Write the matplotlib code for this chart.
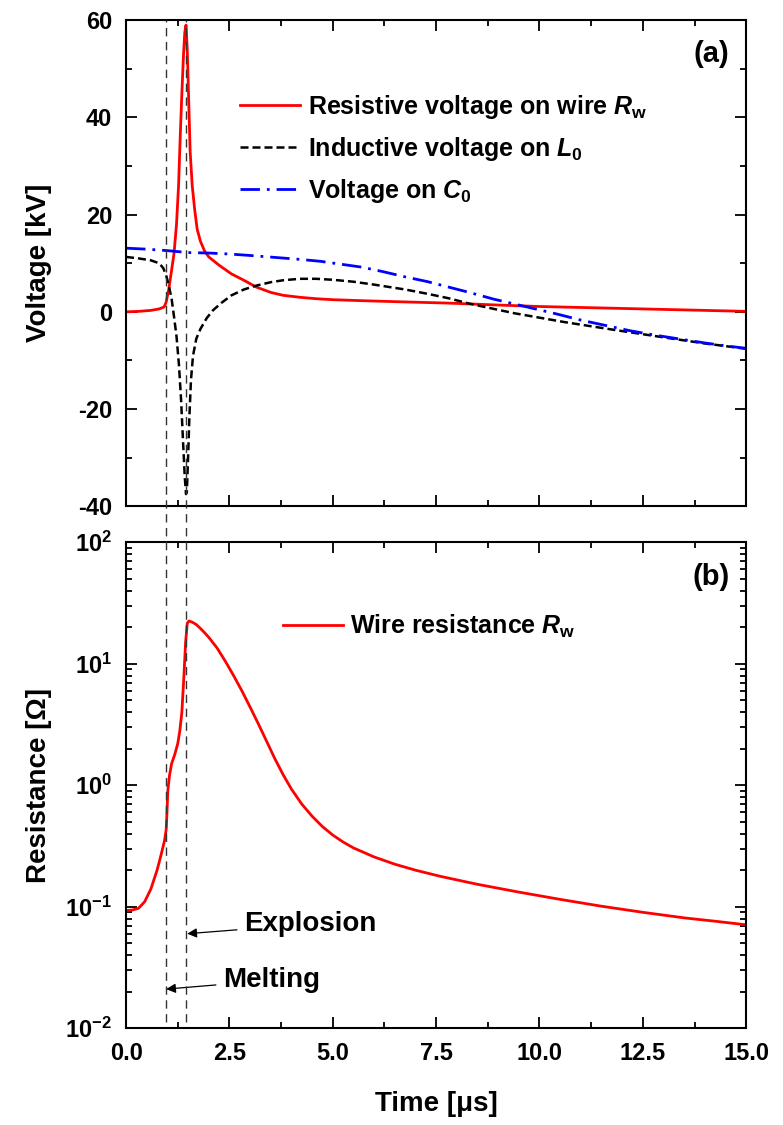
import matplotlib
matplotlib.use('Agg')
import matplotlib.pyplot as plt
import matplotlib.ticker as ticker
import matplotlib.transforms as mtransforms
from matplotlib.lines import Line2D
import numpy as np

plt.rcParams['font.family'] = 'Liberation Sans'
plt.rcParams['font.weight'] = 'bold'
plt.rcParams['axes.labelweight'] = 'bold'
plt.rcParams['axes.unicode_minus'] = False
plt.rcParams['mathtext.fontset'] = 'custom'
plt.rcParams['mathtext.rm'] = 'Liberation Sans:bold'
plt.rcParams['mathtext.it'] = 'Liberation Sans:italic:bold'
plt.rcParams['mathtext.bf'] = 'Liberation Sans:bold'

# ---- data ----
# (a) resistive voltage on the wire [kV]
t_res = [0, 0.3, 0.6, 0.8, 0.92, 0.97, 1.03, 1.1, 1.16, 1.22, 1.27, 1.31, 1.35,
         1.39, 1.42, 1.45, 1.48, 1.51, 1.55, 1.6, 1.66, 1.72, 1.8, 1.9, 2.0,
         2.25, 2.55, 2.85, 3.15, 3.5, 3.8, 4.2, 4.6, 5.0, 5.7, 6.5, 7.8, 9.0,
         10.0, 11.0, 12.0, 13.5, 15.0]
v_res = [0, 0.1, 0.3, 0.6, 1.0, 2.0, 4.5, 8.5, 12, 18, 26, 36, 45,
         53, 57.5, 59, 54, 45, 33, 26, 21, 17, 14.5, 12.5, 11.3,
         9.6, 7.8, 6.5, 5.1, 4.0, 3.4, 3.0, 2.7, 2.5, 2.3, 2.1, 1.8, 1.4,
         1.1, 0.9, 0.7, 0.4, 0.1]

# (a) inductive voltage on L0 [kV]
t_ind = [0, 0.3, 0.6, 0.8, 0.9, 0.97, 1.03, 1.1, 1.16, 1.22, 1.28, 1.33, 1.38,
         1.42, 1.45, 1.47, 1.5, 1.53, 1.57, 1.62, 1.7, 1.8, 1.95, 2.1, 2.3,
         2.55, 2.85, 3.15, 3.5, 3.8, 4.2, 4.6, 5.0, 5.5, 6.0, 6.75, 7.3, 7.8,
         8.3, 8.9, 9.4, 10.0, 10.6, 11.2, 11.8, 12.5, 13.2, 14.0, 15.0]
v_ind = [11.3, 11.0, 10.6, 10.0, 9.0, 7.5, 5.5, 2.8, -1, -5, -11, -18, -27,
         -34, -37.5, -37, -30, -22, -14, -9, -5.5, -3.5, -1.3, 0.3, 1.8,
         3.4, 4.6, 5.4, 6.1, 6.5, 6.8, 6.8, 6.6, 6.2, 5.6, 4.6, 3.7, 2.8,
         1.7, 0.6, -0.3, -1.2, -2.1, -2.9, -3.7, -4.6, -5.5, -6.5, -7.6]

# (a) voltage on C0 [kV]
t_cap = [0, 0.5, 1.0, 1.5, 2.0, 2.5, 3.0, 3.6, 4.2, 4.7, 5.2, 5.7, 6.2, 6.75,
         7.3, 7.8, 8.3, 8.9, 9.4, 9.8, 10.4, 11.0, 11.6, 12.2, 12.8, 13.4,
         14.0, 14.5, 15.0]
v_cap = [13.1, 12.9, 12.6, 12.2, 12.1, 11.9, 11.6, 11.2, 10.8, 10.4, 9.8, 9.2,
         8.3, 7.2, 6.2, 5.1, 4.0, 2.6, 1.6, 0.8, -0.4, -1.7, -2.8, -3.9, -4.8,
         -5.6, -6.4, -7.0, -7.5]

# (b) wire resistance [Ohm]
t_rw = [0, 0.15, 0.3, 0.45, 0.6, 0.75, 0.85, 0.93, 0.97, 0.99, 1.01, 1.05, 1.1,
        1.18, 1.25, 1.3, 1.35, 1.4, 1.44, 1.48, 1.52, 1.6, 1.7, 1.8, 1.9, 2.0,
        2.2, 2.4, 2.6, 2.8, 3.0, 3.2, 3.4, 3.6, 3.8, 4.0, 4.25, 4.5, 4.75, 5.0,
        5.25, 5.5, 6.0, 6.5, 7.0, 7.6, 8.5, 9.5, 10.5, 11.5, 12.5, 13.5,
        14.25, 15.0]
r_w = [0.093, 0.094, 0.097, 0.11, 0.14, 0.2, 0.27, 0.35, 0.43, 0.6, 0.9, 1.2,
       1.5, 1.8, 2.2, 2.8, 4.0, 8.0, 15, 21.5, 22.5, 22, 21, 19.5, 18, 16.5,
       13.5, 10.5, 8.0, 6.0, 4.4, 3.2, 2.3, 1.65, 1.22, 0.93, 0.70, 0.556,
       0.457, 0.389, 0.341, 0.305, 0.257, 0.224, 0.2, 0.178, 0.153, 0.132,
       0.115, 0.101, 0.09, 0.081, 0.076, 0.071]

t_melt = 0.96
t_expl = 1.45

xticks = [0, 2.5, 5.0, 7.5, 10.0, 12.5, 15.0]

fig = plt.figure(figsize=(7.83, 11.25), dpi=100)
ax1 = fig.add_axes([0.161, 0.550, 0.792, 0.432])
ax2 = fig.add_axes([0.161, 0.086, 0.792, 0.432])

ax1.plot(t_res, v_res, color='#ff0000', lw=2.0,
         label=r'Resistive voltage on wire $R_\mathrm{w}$')
ax1.plot(t_ind, v_ind, color='black', lw=1.8, dashes=(3.2, 1.6),
         label=r'Inductive voltage on $L_\mathrm{0}$')
ax1.plot(t_cap, v_cap, color='#0000ff', lw=2.0, dashes=(7, 2.5, 1, 2.5),
         label=r'Voltage on $C_\mathrm{0}$')

ax2.semilogy(t_rw, r_w, color='#ff0000', lw=2.0,
             label=r'Wire resistance $R_\mathrm{w}$')

for ax in (ax1, ax2):
    ax.set_xlim(0, 15)
    ax.set_xticks(xticks)
    ax.xaxis.set_minor_locator(ticker.MultipleLocator(1.25))
    ax.tick_params(which='both', direction='in', top=True, right=True,
                   labelsize=17, pad=10, width=1.3)
    ax.tick_params(which='major', length=8)
    ax.tick_params(which='minor', length=4.5)
    for s in ax.spines.values():
        s.set_linewidth(1.5)

ax1.set_ylim(-40, 60)
ax1.set_yticks([-40, -20, 0, 20, 40, 60])
ax1.yaxis.set_minor_locator(ticker.MultipleLocator(10))
ax1.tick_params(labelbottom=False)
ax1.set_ylabel('Voltage [kV]', fontsize=20)
ax1.yaxis.set_label_coords(-0.12, 0.5)
ax1.text(0.944, 0.93, '(a)', transform=ax1.transAxes, fontsize=21,
         ha='center', va='center')
ax1.legend(loc='upper left', bbox_to_anchor=(0.184, 0.85), frameon=False,
           fontsize=18, handlelength=2.4, handletextpad=0.3,
           labelspacing=0.55, borderpad=0, borderaxespad=0)

ax2.set_ylim(0.01, 100)
ax2.yaxis.set_major_locator(ticker.LogLocator(base=10, numticks=10))
ax2.yaxis.set_minor_locator(ticker.LogLocator(base=10, subs=np.arange(2, 10), numticks=10))
ax2.yaxis.set_minor_formatter(ticker.NullFormatter())
ax2.yaxis.set_major_formatter(ticker.FuncFormatter(
    lambda v, p: r'$10^{%d}$' % int(round(np.log10(v)))))
ax2.xaxis.set_major_formatter(ticker.FormatStrFormatter('%.1f'))
ax2.set_ylabel('Resistance [\u03a9]', fontsize=20)
ax2.yaxis.set_label_coords(-0.12, 0.5)
ax2.set_xlabel('Time [\u03bcs]', fontsize=20)
ax2.xaxis.set_label_coords(0.5, -0.13)
ax2.text(0.944, 0.928, '(b)', transform=ax2.transAxes, fontsize=21,
         ha='center', va='center')
ax2.legend(loc='upper left', bbox_to_anchor=(0.253, 0.855), frameon=False,
           fontsize=18, handlelength=2.4, handletextpad=0.3,
           borderpad=0, borderaxespad=0)

ax2.annotate('Explosion', xy=(t_expl + 0.03, 0.06), xytext=(2.85, 0.072),
             fontsize=20, ha='left', va='center',
             arrowprops=dict(arrowstyle='-|>', color='black', lw=0.9,
                             mutation_scale=14, shrinkA=3, shrinkB=0))
ax2.annotate('Melting', xy=(t_melt + 0.01, 0.021), xytext=(2.34, 0.0248),
             fontsize=20, ha='left', va='center',
             arrowprops=dict(arrowstyle='-|>', color='black', lw=0.9,
                             mutation_scale=14, shrinkA=3, shrinkB=0))

# dashed guide lines for melting / explosion, crossing both panels
trans = mtransforms.blended_transform_factory(ax1.transData, fig.transFigure)
for tv in (t_melt, t_expl):
    fig.add_artist(Line2D([tv, tv], [0.092, 0.982], transform=trans,
                          color='#333333', lw=1.0, dashes=(6, 4)))

fig.savefig('out.png', dpi=100)
